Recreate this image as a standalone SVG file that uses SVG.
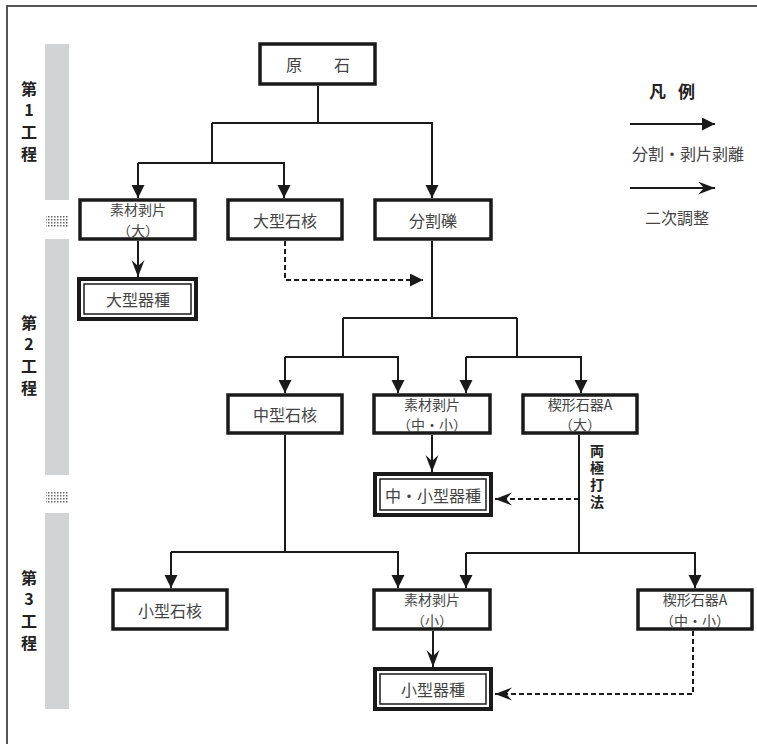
<svg xmlns="http://www.w3.org/2000/svg" width="757" height="744" viewBox="0 0 757 744">
<style>
.box{fill:#fff;stroke:#1a1a1a;stroke-width:3.5}
.obox{fill:#fff;stroke:#1a1a1a;stroke-width:4}
.ibox{fill:none;stroke:#1a1a1a;stroke-width:1.5}
.t{font-family:"Noto Sans CJK JP","Liberation Serif",serif;font-size:16px;fill:#444;text-anchor:middle;dominant-baseline:central}
.t2{font-family:"Noto Sans CJK JP","Liberation Serif",serif;font-size:14px;fill:#444;text-anchor:middle;dominant-baseline:central}
.side{font-family:"Noto Sans CJK JP","Liberation Sans",sans-serif;font-size:16px;font-weight:bold;fill:#222;text-anchor:middle;writing-mode:vertical-rl;text-orientation:upright;letter-spacing:5.7px}
.vt{font-family:"Noto Sans CJK JP","Liberation Sans",sans-serif;font-size:14px;font-weight:bold;fill:#222;text-anchor:middle;writing-mode:vertical-rl;text-orientation:upright;letter-spacing:3px}
.lg{font-family:"Noto Sans CJK JP","Liberation Sans",sans-serif;font-size:17px;font-weight:bold;fill:#222;text-anchor:middle;dominant-baseline:central;letter-spacing:12px}
.ln{fill:none;stroke:#1a1a1a;stroke-width:2}
.ds{fill:none;stroke:#1a1a1a;stroke-width:2;stroke-dasharray:5,3}
.fa{marker-end:url(#fill)}
.oa{marker-end:url(#open)}
.bar{fill:#d2d3d5}
</style>
<defs>
<marker id="fill" markerUnits="userSpaceOnUse" markerWidth="14" markerHeight="14" refX="13" refY="6.5" orient="auto">
<path d="M0,0 L13,6.5 L0,13 z" fill="#1a1a1a"/>
</marker>
<marker id="open" markerUnits="userSpaceOnUse" markerWidth="18" markerHeight="14" refX="17" refY="6.5" orient="auto">
<path d="M0,0 L17,6.5 L0,13 L6,6.5 z" fill="#1a1a1a"/>
</marker>
<pattern id="dots" width="3" height="3" patternUnits="userSpaceOnUse">
<rect x="0" y="0" width="1.5" height="1.5" fill="#666"/>
</pattern>
</defs>
<rect width="757" height="744" fill="#fff"/>
<path d="M7,744 V6 H757" fill="none" stroke="#555" stroke-width="2"/>

<g id="stages">
<rect class="bar" x="45" y="44" width="24" height="156"/>
<rect x="46" y="215" width="23" height="13" fill="url(#dots)"/>
<rect class="bar" x="45" y="239" width="24" height="236"/>
<rect x="46" y="491" width="23" height="12" fill="url(#dots)"/>
<rect class="bar" x="45" y="513" width="24" height="196"/>
<text class="side" x="29" y="124">第1工程</text>
<text class="side" x="29" y="358">第2工程</text>
<text class="side" x="29" y="613">第3工程</text>
</g>

<g id="connectors">
<path class="ln fa" d="M318,86 V123 M212,123 H432 V198"/>
<path class="ln fa" d="M212,123 V163 M138,163 H284 V198"/>
<path class="ln fa" d="M138,163 V198"/>
<path class="ln oa" d="M138,241 V277"/>
<path class="ds fa" d="M285,241 V280 H423"/>
<path class="ln" d="M432,241 V318 M343,318 H517"/>
<path class="ln fa" d="M343,318 V357 M285,357 H398 V393"/>
<path class="ln fa" d="M285,357 V393"/>
<path class="ln fa" d="M517,318 V357 M466,357 H581 V393"/>
<path class="ln fa" d="M466,357 V393"/>
<path class="ln oa" d="M432,435 V472"/>
<path class="ln fa" d="M579,435 V553 M466,553 H695 V588"/>
<path class="ln fa" d="M466,553 V588"/>
<path class="ds oa" d="M579,499 H495"/>
<path class="ln fa" d="M285,435 V552 M171,552 H398 V588"/>
<path class="ln fa" d="M171,552 V588"/>
<path class="ln oa" d="M433,631 V667"/>
<path class="ds oa" d="M693,631 V694 H495"/>
<text class="vt" x="597" y="478">両極打法</text>
</g>

<g id="n-genseki"><rect class="box" x="260" y="44" width="115" height="40"/><text class="t" x="318" y="64">原　　石</text></g>
<g id="n-sozai-l"><rect class="box" x="80" y="200" width="115" height="39"/><text class="t2" x="138" y="209.3">素材剥片</text><text class="t2" x="138" y="229.7">（大）</text></g>
<g id="n-ogata-sekikaku"><rect class="box" x="228" y="200" width="114" height="39"/><text class="t" x="285" y="220">大型石核</text></g>
<g id="n-bunkatsureki"><rect class="box" x="375" y="200" width="116" height="39"/><text class="t" x="433" y="220">分割礫</text></g>
<g id="n-ogata-kishu"><rect class="obox" x="79" y="279" width="117" height="40"/><rect class="ibox" x="84" y="284" width="107" height="30"/><text class="t" x="138" y="299">大型器種</text></g>
<g id="n-chugata-sekikaku"><rect class="box" x="228" y="395" width="114" height="38"/><text class="t" x="285" y="414">中型石核</text></g>
<g id="n-sozai-ms"><rect class="box" x="374" y="395" width="116" height="38"/><text class="t2" x="432" y="403.8">素材剥片</text><text class="t2" x="432" y="424.2">（中・小）</text></g>
<g id="n-kusabi-l"><rect class="box" x="523" y="395" width="114" height="38"/><text class="t2" x="580" y="403.8">楔形石器A</text><text class="t2" x="580" y="424.2">（大）</text></g>
<g id="n-chusho-kishu"><rect class="obox" x="375" y="474" width="116" height="41"/><rect class="ibox" x="380" y="479" width="106" height="31"/><text class="t" x="433" y="495">中・小型器種</text></g>
<g id="n-kogata-sekikaku"><rect class="box" x="113" y="590" width="114" height="39"/><text class="t" x="170" y="610">小型石核</text></g>
<g id="n-sozai-s"><rect class="box" x="374" y="590" width="116" height="39"/><text class="t2" x="432" y="599.3">素材剥片</text><text class="t2" x="432" y="619.7">（小）</text></g>
<g id="n-kusabi-ms"><rect class="box" x="638" y="590" width="114" height="39"/><text class="t2" x="695" y="599.3">楔形石器A</text><text class="t2" x="695" y="619.7">（中・小）</text></g>
<g id="n-kogata-kishu"><rect class="obox" x="375" y="669" width="116" height="40"/><rect class="ibox" x="380" y="674" width="106" height="30"/><text class="t" x="433" y="689">小型器種</text></g>

<g id="legend">
<text class="lg" x="678" y="90">凡例</text>
<path class="ln fa" d="M630,124 H715"/>
<text class="t" x="688" y="153">分割・剥片剥離</text>
<path class="ln oa" d="M630,188 H715"/>
<text class="t" x="677" y="217">二次調整</text>
</g>
</svg>
